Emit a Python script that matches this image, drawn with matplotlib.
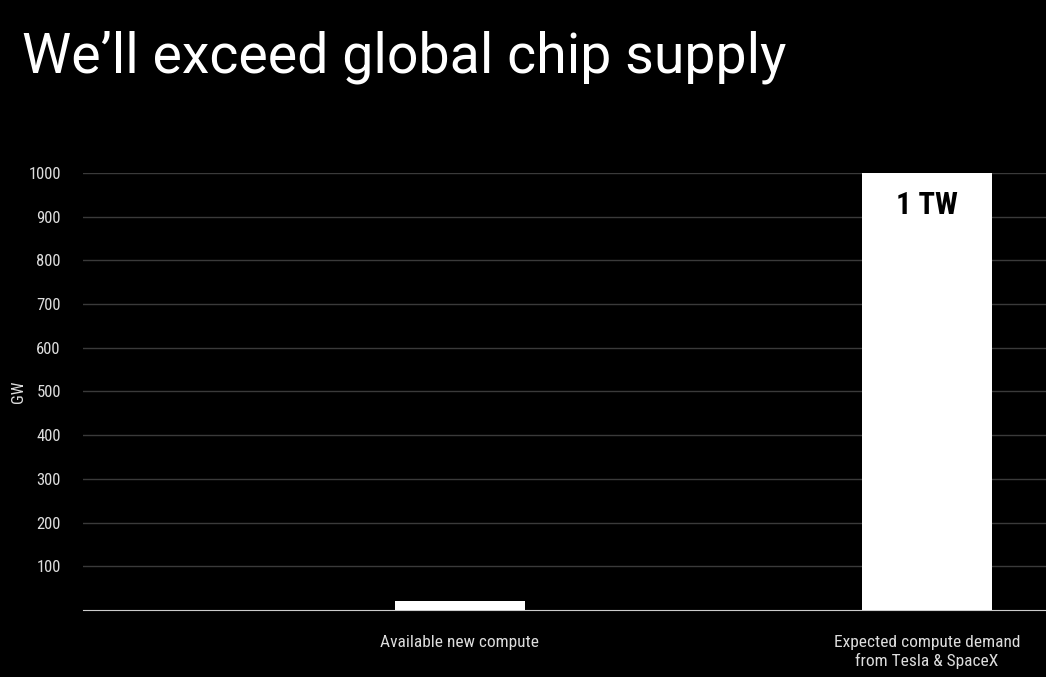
import matplotlib
matplotlib.use('Agg')
import matplotlib.pyplot as plt

categories = ["Available new compute", "Expected compute demand\nfrom Tesla & SpaceX"]
values_gw = [20, 1000]
bar_labels = [None, "1 TW"]
y_ticks = [100, 200, 300, 400, 500, 600, 700, 800, 900, 1000]

plt.rcParams['font.family'] = ['Roboto Condensed', 'Roboto', 'DejaVu Sans']

fig = plt.figure(figsize=(10.46, 6.77), dpi=100, facecolor='black')
ax = fig.add_axes([0.0794, 0.099, 0.9206, 0.6455], facecolor='black')

x = list(range(len(categories)))
ax.bar(x, values_gw, width=0.28, color='white', zorder=3)
for xi, v, lab in zip(x, values_gw, bar_labels):
    if lab:
        ax.text(xi, v - 38, lab, ha='center', va='top', color='black',
                fontsize=22, fontweight='bold', zorder=4)

ax.set_xlim(-0.807, 1.255)
ax.set_ylim(0, 1000)
ax.set_yticks(y_ticks)
ax.set_xticks(x)
ax.set_xticklabels(categories, color='#dddddd', fontsize=12.5)
ax.tick_params(axis='y', colors='#dddddd', labelsize=12, length=0, pad=16)
ax.tick_params(axis='x', length=0, pad=18)
ax.grid(axis='y', color='#3a3a3a', linewidth=1, zorder=0)
ax.set_ylabel("GW", color='#dddddd', fontsize=12, labelpad=2)

for s in ['top', 'right', 'left']:
    ax.spines[s].set_visible(False)
ax.spines['bottom'].set_color('#cccccc')

fig.text(0.021, 0.915, "We\u2019ll exceed global chip supply", color='white',
         fontsize=40, ha='left', va='center', family=['Roboto', 'DejaVu Sans'])

fig.savefig('out.png', dpi=100, facecolor='black')
